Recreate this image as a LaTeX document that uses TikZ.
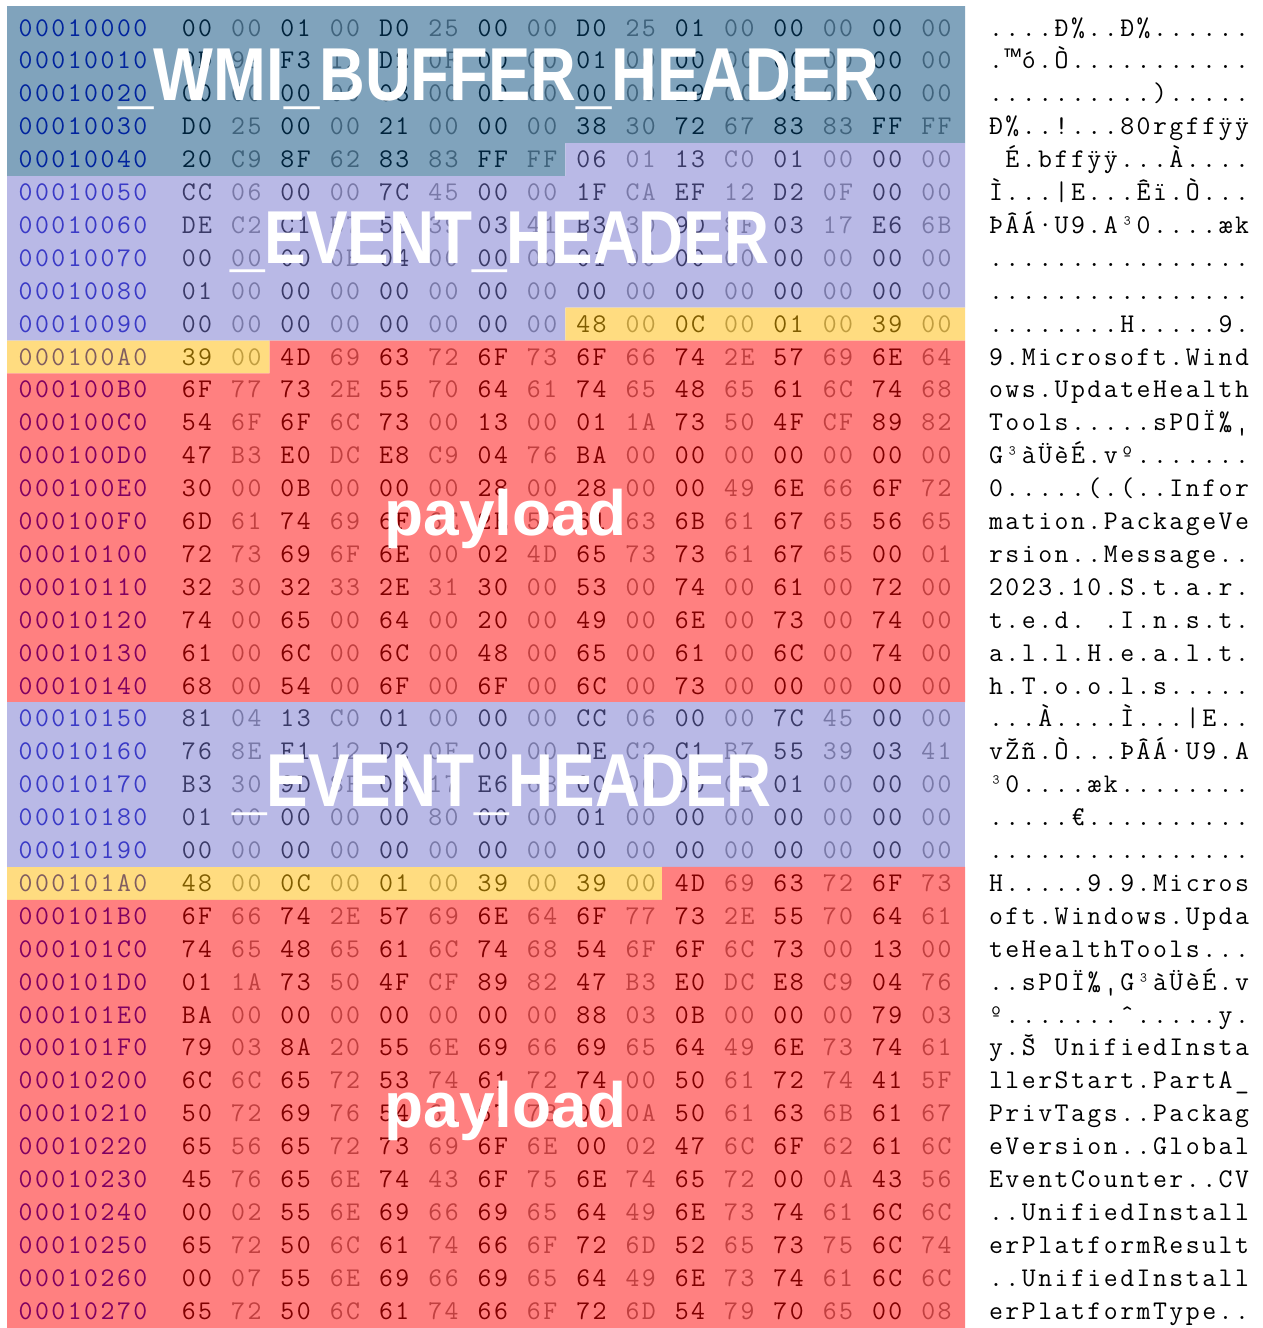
\documentclass[tikz,border=0pt]{standalone}
\usepackage{fontspec}
\usepackage{graphicx}
\setmainfont{Liberation Sans}
\newfontfamily\labelfont{Liberation Sans}
\newfontfamily\tmfont{Liberation Mono}
\newcommand\tm{{\tmfont ™}}

% overlay tints laid over the dump (mixed 50% with what lies below)
\definecolor{ovW}{RGB}{0,71,121}
\definecolor{ovE}{RGB}{115,115,205}
\definecolor{ovY}{RGB}{255,185,0}
\definecolor{ovP}{RGB}{255,0,0}
\definecolor{offink}{RGB}{0,0,192}
\definecolor{oddink}{RGB}{128,128,128}
\colorlet{bgW}{ovW!50!white}
\colorlet{bgE}{ovE!50!white}
\colorlet{bgY}{ovY!50!white}
\colorlet{bgP}{ovP!50!white}
\colorlet{offW}{ovW!50!offink}
\colorlet{offE}{ovE!50!offink}
\colorlet{offY}{ovY!50!offink}
\colorlet{offP}{ovP!50!offink}
\colorlet{evenW}{ovW!50!black}
\colorlet{evenE}{ovE!50!black}
\colorlet{evenY}{ovY!50!black}
\colorlet{evenP}{ovP!50!black}
\colorlet{oddW}{ovW!50!oddink}
\colorlet{oddE}{ovE!50!oddink}
\colorlet{oddY}{ovY!50!oddink}
\colorlet{oddP}{ovP!50!oddink}

% one character per fixed-width cell
\newcommand\cellw{16.4pt}
\def\monoline#1{\monoloop#1\relax}
\def\monoloop#1{\ifx#1\relax\else\makebox[\cellw][c]{#1}\expandafter\monoloop\fi}

% which structure a byte offset (relative to 0x10000) belongs to
\newcommand\setregion[1]{%
  \ifnum\numexpr#1\relax<72 \def\reg{W}\else
  \ifnum\numexpr#1\relax<152 \def\reg{E}\else
  \ifnum\numexpr#1\relax<162 \def\reg{Y}\else
  \ifnum\numexpr#1\relax<336 \def\reg{P}\else
  \ifnum\numexpr#1\relax<416 \def\reg{E}\else
  \ifnum\numexpr#1\relax<426 \def\reg{Y}\else
  \def\reg{P}\fi\fi\fi\fi\fi\fi}

\newcommand\dumpfont{\ttfamily\fontsize{27}{27}\selectfont\addfontfeature{FakeBold=2}}
\newcommand\dumpfontheavy{\ttfamily\fontsize{27}{27}\selectfont\addfontfeature{FakeBold=4}}

\tikzset{
  hexcell/.style={anchor=base west, inner sep=0pt, outer sep=0pt, font=\dumpfont},
  hexheavy/.style={hexcell, font=\dumpfontheavy},
  bigtag/.style={anchor=base, inner sep=0pt, text=white,
    font=\labelfont\bfseries\fontsize{75}{75}\selectfont},
  smalltag/.style={bigtag, font=\labelfont\bfseries\fontsize{64}{64}\selectfont},
}

% one dump line: row index, offset, 16 bytes, text column
\newcommand\hexrow[4]{%
  \pgfmathsetmacro\rowy{36+32.9*#1}%
  \setregion{#1*16}%
  \node[hexcell, text=off\reg] (off#1) at (17.4,\rowy) {\monoline{#2}};
  \foreach \b [count=\c from 0] in {#3}{%
    \setregion{#1*16+\c}%
    \ifodd\c\relax
      \node[hexcell, text=odd\reg] (b#1-\c) at ({180.6+49.3*\c},\rowy)
        {\expandafter\monoline\expandafter{\b}};
    \else
      \node[hexheavy, text=even\reg] (b#1-\c) at ({180.6+49.3*\c},\rowy)
        {\expandafter\monoline\expandafter{\b}};
    \fi
  }%
  \node[hexcell, text=black] (asc#1) at (987.8,\rowy) {\monoline{#4}};
}

\begin{document}
\begin{tikzpicture}[x=1pt,y=-1pt]
\useasboundingbox (0,0) rectangle (1263,1328);
\fill[white] (0,0) rectangle (1263,1328);

% structure backgrounds
\fill[bgW] (7,6) -- (965,6) -- (965,143.15) -- (565.4,143.15) -- (565.4,176.05)
  -- (7,176.05) -- cycle;
\fill[bgE] (565.4,143.15) -- (965,143.15) -- (965,307.65) -- (565.4,307.65)
  -- (565.4,340.55) -- (7,340.55) -- (7,176.05) -- (565.4,176.05) -- cycle;
\fill[bgY] (565.4,307.65) -- (965,307.65) -- (965,340.55) -- (269.6,340.55)
  -- (269.6,373.45) -- (7,373.45) -- (7,340.55) -- (565.4,340.55) -- cycle;
\fill[bgP] (269.6,340.55) -- (965,340.55) -- (965,702.45) -- (7,702.45)
  -- (7,373.45) -- (269.6,373.45) -- cycle;
\fill[bgE] (7,702.45) rectangle (965,866.95);
\fill[bgY] (7,866.95) rectangle (662,899.85);
\fill[bgP] (662,866.95) -- (965,866.95) -- (965,1328) -- (7,1328)
  -- (7,899.85) -- (662,899.85) -- cycle;

% the dump
\hexrow{0}{00010000}{00,00,01,00,D0,25,00,00,D0,25,01,00,00,00,00,00}{....Ð\%..Ð\%......}
\hexrow{1}{00010010}{0D,99,F3,12,D2,0F,00,00,01,00,00,00,00,00,00,00}{.\tm ó.Ò...........}
\hexrow{2}{00010020}{00,00,00,00,03,00,00,00,00,00,29,00,03,00,00,00}{..........).....}
\hexrow{3}{00010030}{D0,25,00,00,21,00,00,00,38,30,72,67,83,83,FF,FF}{Ð\%..!...80rgƒƒÿÿ}
\hexrow{4}{00010040}{20,C9,8F,62,83,83,FF,FF,06,01,13,C0,01,00,00,00}{~É.bƒƒÿÿ...À....}
\hexrow{5}{00010050}{CC,06,00,00,7C,45,00,00,1F,CA,EF,12,D2,0F,00,00}{Ì...|E...Êï.Ò...}
\hexrow{6}{00010060}{DE,C2,C1,B7,55,39,03,41,B3,30,9D,8F,03,17,E6,6B}{ÞÂÁ·U9.A³0....æk}
\hexrow{7}{00010070}{00,00,00,0B,04,00,00,00,01,00,00,00,00,00,00,00}{................}
\hexrow{8}{00010080}{01,00,00,00,00,00,00,00,00,00,00,00,00,00,00,00}{................}
\hexrow{9}{00010090}{00,00,00,00,00,00,00,00,48,00,0C,00,01,00,39,00}{........H.....9.}
\hexrow{10}{000100A0}{39,00,4D,69,63,72,6F,73,6F,66,74,2E,57,69,6E,64}{9.Microsoft.Wind}
\hexrow{11}{000100B0}{6F,77,73,2E,55,70,64,61,74,65,48,65,61,6C,74,68}{ows.UpdateHealth}
\hexrow{12}{000100C0}{54,6F,6F,6C,73,00,13,00,01,1A,73,50,4F,CF,89,82}{Tools.....sPOÏ‰‚}
\hexrow{13}{000100D0}{47,B3,E0,DC,E8,C9,04,76,BA,00,00,00,00,00,00,00}{G³àÜèÉ.vº.......}
\hexrow{14}{000100E0}{30,00,0B,00,00,00,28,00,28,00,00,49,6E,66,6F,72}{0.....(.(..Infor}
\hexrow{15}{000100F0}{6D,61,74,69,6F,6E,2E,50,61,63,6B,61,67,65,56,65}{mation.PackageVe}
\hexrow{16}{00010100}{72,73,69,6F,6E,00,02,4D,65,73,73,61,67,65,00,01}{rsion..Message..}
\hexrow{17}{00010110}{32,30,32,33,2E,31,30,00,53,00,74,00,61,00,72,00}{2023.10.S.t.a.r.}
\hexrow{18}{00010120}{74,00,65,00,64,00,20,00,49,00,6E,00,73,00,74,00}{t.e.d.~.I.n.s.t.}
\hexrow{19}{00010130}{61,00,6C,00,6C,00,48,00,65,00,61,00,6C,00,74,00}{a.l.l.H.e.a.l.t.}
\hexrow{20}{00010140}{68,00,54,00,6F,00,6F,00,6C,00,73,00,00,00,00,00}{h.T.o.o.l.s.....}
\hexrow{21}{00010150}{81,04,13,C0,01,00,00,00,CC,06,00,00,7C,45,00,00}{...À....Ì...|E..}
\hexrow{22}{00010160}{76,8E,F1,12,D2,0F,00,00,DE,C2,C1,B7,55,39,03,41}{vŽñ.Ò...ÞÂÁ·U9.A}
\hexrow{23}{00010170}{B3,30,9D,8F,03,17,E6,6B,00,00,00,0B,01,00,00,00}{³0....æk........}
\hexrow{24}{00010180}{01,00,00,00,00,80,00,00,01,00,00,00,00,00,00,00}{.....€..........}
\hexrow{25}{00010190}{00,00,00,00,00,00,00,00,00,00,00,00,00,00,00,00}{................}
\hexrow{26}{000101A0}{48,00,0C,00,01,00,39,00,39,00,4D,69,63,72,6F,73}{H.....9.9.Micros}
\hexrow{27}{000101B0}{6F,66,74,2E,57,69,6E,64,6F,77,73,2E,55,70,64,61}{oft.Windows.Upda}
\hexrow{28}{000101C0}{74,65,48,65,61,6C,74,68,54,6F,6F,6C,73,00,13,00}{teHealthTools...}
\hexrow{29}{000101D0}{01,1A,73,50,4F,CF,89,82,47,B3,E0,DC,E8,C9,04,76}{..sPOÏ‰‚G³àÜèÉ.v}
\hexrow{30}{000101E0}{BA,00,00,00,00,00,00,00,88,03,0B,00,00,00,79,03}{º.......ˆ.....y.}
\hexrow{31}{000101F0}{79,03,8A,20,55,6E,69,66,69,65,64,49,6E,73,74,61}{y.Š~UnifiedInsta}
\hexrow{32}{00010200}{6C,6C,65,72,53,74,61,72,74,00,50,61,72,74,41,5F}{llerStart.PartA\_}
\hexrow{33}{00010210}{50,72,69,76,54,61,67,73,00,0A,50,61,63,6B,61,67}{PrivTags..Packag}
\hexrow{34}{00010220}{65,56,65,72,73,69,6F,6E,00,02,47,6C,6F,62,61,6C}{eVersion..Global}
\hexrow{35}{00010230}{45,76,65,6E,74,43,6F,75,6E,74,65,72,00,0A,43,56}{EventCounter..CV}
\hexrow{36}{00010240}{00,02,55,6E,69,66,69,65,64,49,6E,73,74,61,6C,6C}{..UnifiedInstall}
\hexrow{37}{00010250}{65,72,50,6C,61,74,66,6F,72,6D,52,65,73,75,6C,74}{erPlatformResult}
\hexrow{38}{00010260}{00,07,55,6E,69,66,69,65,64,49,6E,73,74,61,6C,6C}{..UnifiedInstall}
\hexrow{39}{00010270}{65,72,50,6C,61,74,66,6F,72,6D,54,79,70,65,00,08}{erPlatformType..}

% structure names
\node[bigtag] (tagwmi) at (499,100) {\scalebox{0.845}[1]{\_WMI\_BUFFER\_HEADER}};
\node[bigtag] (tagev1) at (500,263) {\scalebox{0.83}[1]{\_EVENT\_HEADER}};
\node[smalltag] (tagpl1) at (505.5,535) {payload};
\node[bigtag] (tagev2) at (502,806) {\scalebox{0.83}[1]{\_EVENT\_HEADER}};
\node[smalltag] (tagpl2) at (505.5,1127) {payload};
\end{tikzpicture}
\end{document}
